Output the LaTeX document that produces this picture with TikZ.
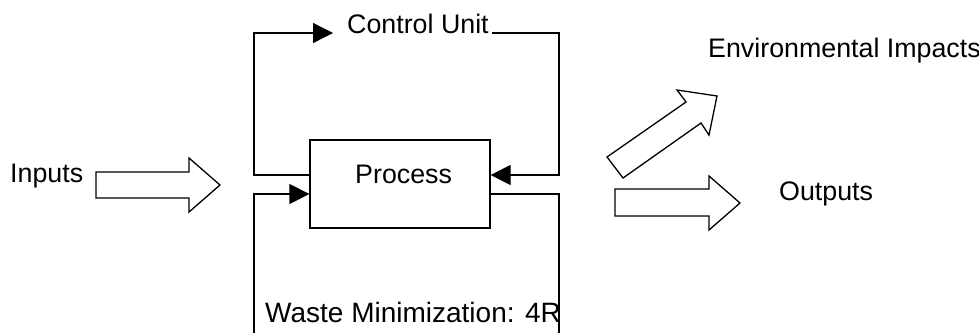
\documentclass[tikz,border=0pt]{standalone}
\usepackage{fontspec}
\setmainfont{Liberation Sans}
\usetikzlibrary{arrows.meta}
\begin{document}
\begin{tikzpicture}[x=1pt,y=-1pt,
  line/.style={line width=1.3pt},
  tip/.style={-{Triangle[length=20pt,width=20pt]}},
  lbl/.style={inner sep=0pt,anchor=base west,font=\fontsize{26.8}{30}\selectfont},
  blockarrow/.style={line width=1.3pt,line join=miter,fill=white}]
\useasboundingbox (0,0) rectangle (979,333);
% nodes
\node[draw,line width=1.3pt,minimum width=180pt,minimum height=88pt,inner sep=0pt] (process) at (400,184) {};
\node[lbl] (proctext) at (355,183) {Process};
\node[lbl] (control) at (347,33) {Control Unit};
\node[lbl] (inputs) at (10,182) {Inputs};
\node[lbl] (outputs) at (779,200) {Outputs};
\node[lbl] (env) at (708,57) {Environmental Impacts};
\node[lbl,font=\fontsize{28}{30}\selectfont] (waste) at (265,322) {Waste Minimization: 4R};
% coordinates
\coordinate (cuin) at (333,33);
\coordinate (cuout) at (492,33);
\coordinate (wbL) at (254,333);
\coordinate (wbR) at (559,333);
% control loop
\draw[line,tip] ([yshift=9pt]process.west) -| (254,33) -- (cuin);
\draw[line,tip] (cuout) -- (559,33) |- ([yshift=9pt]process.east);
% waste loop
\draw[line] ([yshift=-10pt]process.east) -| (wbR);
\draw[line,tip] (wbL) |- ([yshift=-10pt]process.west);
% block arrows
\draw[blockarrow] (96,172) -- (189,172) -- (189,158) -- (220,185) -- (189,212) -- (189,198) -- (96,198) -- cycle;
\draw[blockarrow] (615,189) -- (709,189) -- (709,176) -- (740,203) -- (709,230) -- (709,216) -- (615,216) -- cycle;
\draw[blockarrow] (607,157) -- (686,102) -- (677,90) -- (717,96) -- (709,135) -- (701,123) -- (623,178) -- cycle;
\end{tikzpicture}
\end{document}
